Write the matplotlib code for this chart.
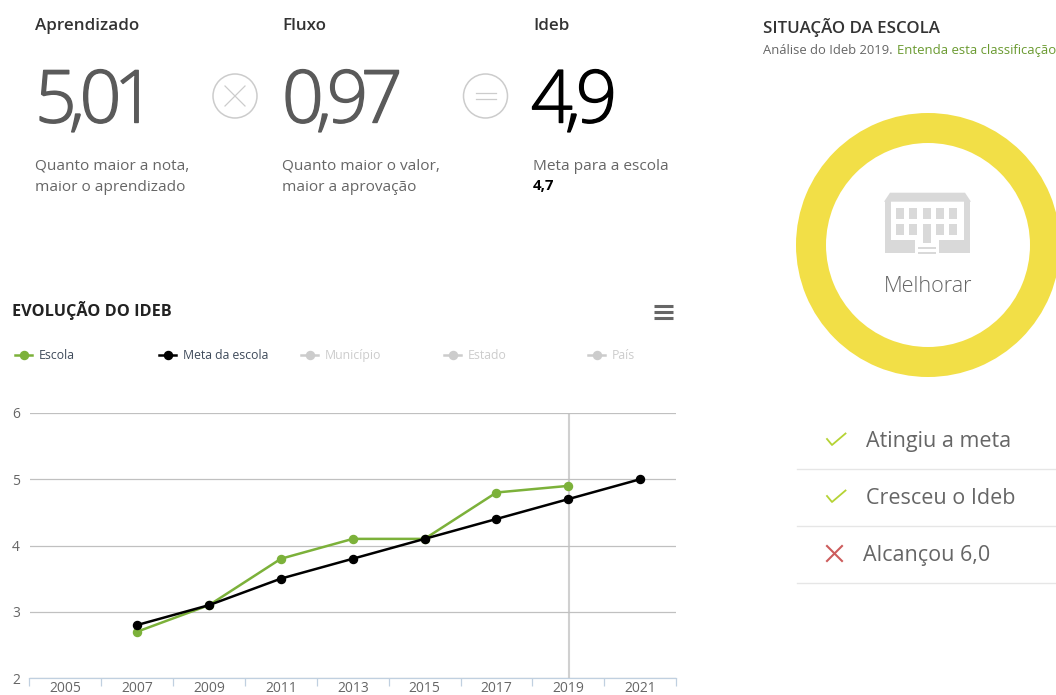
#!/usr/bin/env python3
"""
Painel do Ideb da escola
"""

import matplotlib
matplotlib.use('Agg')
import matplotlib.pyplot as plt
import matplotlib.patheffects as pe
from matplotlib.patches import Circle, Polygon, Rectangle, Wedge
from matplotlib.text import Text

# dados do grafico
years = ['2005', '2007', '2009', '2011', '2013', '2015', '2017', '2019', '2021']
escola = [None, 2.7, 3.1, 3.8, 4.1, 4.1, 4.8, 4.9, None]
meta = [None, 2.8, 3.1, 3.5, 3.8, 4.1, 4.4, 4.7, 5.0]
y_ticks = [2, 3, 4, 5, 6]
legend_names = ['Escola', 'Meta da escola', 'Município', 'Estado', 'País']

# indicadores
aprendizado = '5,01'
fluxo = '0,97'
ideb = '4,9'
meta_ideb = '4,7'

W, H = 1056, 695
GREEN = '#7CB13A'
GRAY = '#666666'
LIGHT = '#CCCCCC'
FONT = 'Open Sans'

plt.rcParams['font.family'] = [FONT, 'DejaVu Sans']

fig = plt.figure(figsize=(W / 100, H / 100), dpi=100)

# grafico principal
ax = fig.add_axes([29.5 / W, (H - 678) / H, 646.5 / W, 265 / H])
idx = list(range(len(years)))


def pairs(values):
    xs = [i for i, v in zip(idx, values) if v is not None]
    ys = [v for v in values if v is not None]
    return xs, ys


ax.axvline(years.index('2019') + 0.01, color='#D0D0D0', linewidth=1.5, zorder=1)
ax.plot(*pairs(escola), color=GREEN, marker='o', markersize=5.8, linewidth=1.8,
        zorder=3, clip_on=False)
ax.plot(*pairs(meta), color='black', marker='o', markersize=5.8, linewidth=1.8,
        zorder=4, clip_on=False)
ax.set_xlim(-0.5, len(years) - 0.5)
ax.set_ylim(y_ticks[0], y_ticks[-1])
ax.set_yticks(y_ticks)
ax.set_xticks(idx)
ax.set_xticklabels(years)
ax.set_xticks([i - 0.5 for i in idx] + [idx[-1] + 0.5], minor=True)
ax.grid(True, axis='y', color='#C0C0C0', linewidth=0.9, zorder=0)
ax.tick_params(axis='y', length=0, pad=7, labelsize=10, labelcolor=GRAY)
ax.tick_params(axis='x', which='major', length=0, pad=2.5, labelsize=10, labelcolor=GRAY)
ax.tick_params(axis='x', which='minor', length=6, width=0.9, color='#C0D0E0')
for side in ['top', 'right', 'left']:
    ax.spines[side].set_visible(False)
ax.spines['bottom'].set_color('#C0D0E0')
ax.spines['bottom'].set_linewidth(0.9)
ax.patch.set_alpha(0)

# camada em pixels para o resto do painel
ov = fig.add_axes([0, 0, 1, 1], zorder=-1)
ov.set_xlim(0, W)
ov.set_ylim(H, 0)
ov.axis('off')


def label(x, y, s, size, color=GRAY, weight='normal', ha='left'):
    return ov.text(x, y + 1.5, s, fontsize=size * 0.72, color=color, weight=weight,
                   ha=ha, va='center', clip_on=True)


class TightText(Text):
    """Texto com espacamento negativo entre as letras (matplotlib nao tem isso)."""
    px_size = 73
    tracking = -7.5

    def draw(self, renderer):
        s = self.get_text()
        x0 = self.get_position()[0]
        x = x0
        for ch in s:
            self.set_text(ch)
            self.set_x(x)
            super().draw(renderer)
            x += (0.245 if ch == ',' else 0.572) * self.px_size + self.tracking
        self.set_text(s)
        self.set_x(x0)


def big_number(x, s, color):
    t = TightText(x, 122.5, s, fontsize=TightText.px_size * 0.72, color=color,
                  weight='light', ha='left', va='baseline')
    t.set_path_effects([pe.withStroke(linewidth=1.0, foreground=color)])
    ov.add_artist(t)


# cabecalhos
label(35, 25, 'Aprendizado', 17, '#333333', 'semibold')
label(282, 25, 'Fluxo', 17, '#333333', 'semibold')
label(533, 25, 'Ideb', 17, '#333333', 'semibold')

big_number(35, aprendizado, '#5A5A5A')
big_number(282, fluxo, '#5A5A5A')
big_number(531, ideb, 'black')

label(35, 165, 'Quanto maior a nota,', 15.4)
label(35, 186, 'maior o aprendizado', 15.4)
label(282, 165, 'Quanto maior o valor,', 15.4)
label(282, 186, 'maior a aprovação', 15.4)
label(533, 165, 'Meta para a escola', 15.4)
label(533, 184.5, meta_ideb, 15, 'black', 'bold')

# simbolos de vezes e igual
ov.add_patch(Circle((235, 96), 22, fill=False, edgecolor=LIGHT, linewidth=1.1))
ov.add_patch(Circle((485.5, 96), 22, fill=False, edgecolor=LIGHT, linewidth=1.1))
ov.plot([225, 245], [86, 106], color=LIGHT, linewidth=0.9)
ov.plot([225, 245], [106, 86], color=LIGHT, linewidth=0.9)
ov.plot([476, 496], [93, 93], color=LIGHT, linewidth=0.9)
ov.plot([476, 496], [99, 99], color=LIGHT, linewidth=0.9)

# titulo e menu do grafico
label(12, 309.5, 'EVOLUÇÃO DO IDEB', 16.3, '#222222', 'bold')
for y in [306, 312, 318]:
    ov.plot([654, 673], [y, y], color=GRAY, linewidth=2.2, solid_capstyle='butt')

# legenda
legend_x = [15, 159, 301, 444, 588]
legend_colors = [GREEN, 'black', LIGHT, LIGHT, LIGHT]
legend_text = ['#3E4A5A', '#3E4A5A', LIGHT, LIGHT, LIGHT]
for lx, name, c, tc in zip(legend_x, legend_names, legend_colors, legend_text):
    ov.plot([lx, lx + 17], [354.5, 354.5], color=c, linewidth=1.8)
    ov.plot([lx + 8.5], [354.5], color=c, marker='o', markersize=5.8)
    label(lx + 24, 354, name, 12.2, tc)

# situacao da escola
label(763, 26, 'SITUAÇÃO DA ESCOLA', 16.9, '#333333', 'semibold')
label(763, 49, 'Análise do Ideb 2019.', 13)
label(897, 49, 'Entenda esta classificação', 13.1, '#6A9A30')

ov.add_patch(Wedge((928, 245), 132, 0, 360, width=30, facecolor='#F2DF47', edgecolor='none'))
label(928, 284.5, 'Melhorar', 21.7, GRAY, 'light', ha='center')

# icone da escola
ICON = '#D9D9D9'
ov.add_patch(Polygon([(884, 201.7), (890, 192.7), (965, 192.7), (971, 201.7)], facecolor=ICON))
ov.add_patch(Rectangle((885, 201), 5.5, 40, facecolor=ICON))
ov.add_patch(Rectangle((964, 201), 5.5, 40, facecolor=ICON))
ov.add_patch(Rectangle((885, 240), 30, 12.7, facecolor=ICON))
ov.add_patch(Rectangle((939, 240), 30.5, 12.7, facecolor=ICON))
for wx in [895.7, 909.3, 922.7, 936, 949.3]:
    ov.add_patch(Rectangle((wx, 208), 8, 11.3, facecolor=ICON))
    if wx != 922.7:
        ov.add_patch(Rectangle((wx, 224), 8, 10.7, facecolor=ICON))
ov.add_patch(Rectangle((922.7, 224), 8, 18.5, facecolor=ICON))
ov.add_patch(Rectangle((917.5, 247), 18.5, 1.5, facecolor=ICON))
ov.add_patch(Rectangle((917.5, 252), 18.5, 2, facecolor=ICON))

# lista de criterios
CHECK = '#B5D334'
for y in [0, 57]:
    ov.plot([827, 832, 845.5], [439 + y, 445 + y, 433.5 + y], color=CHECK, linewidth=1.3)
ov.plot([827, 842], [546, 561], color='#CD5C5C', linewidth=1.5)
ov.plot([827, 842], [561, 546], color='#CD5C5C', linewidth=1.5)
label(866, 439.5, 'Atingiu a meta', 21.5)
label(866, 496.5, 'Cresceu o Ideb', 21.5)
label(863, 553.5, 'Alcançou 6,0', 21.5)
for y in [468.5, 526, 583]:
    ov.plot([797, W], [y, y], color='#E6E6E6', linewidth=1)

fig.savefig('out.png', dpi=100)
